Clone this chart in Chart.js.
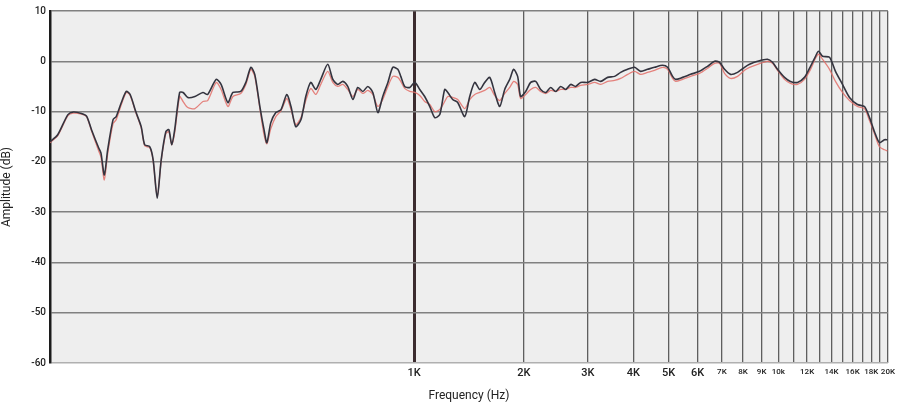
<!DOCTYPE html>
<html>
<head>
<meta charset="utf-8">
<style>
  html, body { margin: 0; padding: 0; background: #ffffff; }
  #wrap { width: 899px; height: 403px; }
</style>
<script src="https://cdn.jsdelivr.net/npm/chart.js@4.4.1/dist/chart.umd.min.js"></script>
</head>
<body>
<div id="wrap"><canvas id="c" width="899" height="403"></canvas></div>
<script>
const freqHz = [100,105,112,116,122,126,130,136,138,141,144,149,152,157,162,166,172,178,182,188,192,197,202,208,212,216,220,227,232,239,250,263,271,286,295,308,318,334,345,356,365,377,387,394,404,417,431,447,459,473,489,504,520,537,554,579,598,617,637,657,679,700,723,746,770,795,820,847,874,902,919,942,973,1004,1036,1069,1104,1139,1176,1213,1237,1276,1317,1377,1421,1467,1514,1562,1613,1664,1718,1773,1830,1876,1924,1961,2024,2089,2157,2226,2297,2371,2447,2526,2606,2690,2776,2866,2995,3131,3252,3399,3552,3690,3857,4031,4187,4375,4574,4810,4965,5125,5224,5460,5743,6078,6392,6682,6897,7119,7394,7727,8076,8337,8768,9340,9639,9949,10400,10800,11290,11800,12260,12655,12897,13226,13823,14355,15006,15686,16498,17245,17801,18371,18960,19565,19940];
const darkDb = [-16.0,-14.6,-10.6,-10.1,-10.4,-10.9,-13.6,-17.2,-18.2,-22.6,-17.6,-11.6,-11.0,-8.2,-6.0,-6.6,-10.0,-13.0,-16.6,-17.0,-19.6,-27.2,-19.6,-14.0,-13.6,-16.6,-13.6,-6.2,-6.2,-7.2,-7.0,-6.2,-6.6,-3.6,-4.6,-8.2,-6.2,-6.0,-4.2,-1.2,-2.6,-9.0,-13.6,-16.2,-12.2,-10.2,-9.6,-6.6,-9.0,-13.0,-11.6,-7.0,-4.2,-5.6,-3.6,-0.6,-3.6,-4.6,-4.0,-5.0,-7.6,-5.2,-6.0,-5.0,-6.2,-10.2,-7.0,-4.2,-1.2,-1.6,-3.0,-5.0,-5.2,-4.2,-5.6,-7.0,-9.0,-11.2,-10.6,-5.6,-6.2,-7.6,-8.2,-11.0,-7.0,-4.2,-5.6,-4.2,-3.2,-6.2,-9.0,-5.6,-3.6,-1.6,-3.0,-7.0,-6.0,-4.2,-4.0,-5.6,-6.2,-5.2,-6.0,-5.0,-5.6,-4.6,-5.0,-4.2,-4.2,-3.6,-4.0,-3.2,-3.0,-2.2,-1.6,-1.2,-2.0,-1.6,-1.2,-0.8,-1.2,-3.0,-3.6,-3.2,-2.6,-2.0,-1.0,0.0,-0.2,-1.6,-2.6,-2.2,-1.2,-0.6,0.0,0.4,-0.2,-1.6,-3.2,-4.0,-4.2,-3.2,-1.0,1.0,2.0,1.0,0.8,-2.0,-4.6,-7.2,-8.6,-9.0,-11.2,-14.0,-16.2,-15.6,-15.6];
const redDb = [-16.2,-14.8,-10.8,-10.3,-10.5,-11.0,-13.8,-17.8,-19.0,-23.6,-18.4,-12.4,-11.6,-8.6,-6.2,-6.8,-10.2,-13.2,-16.8,-17.2,-19.8,-27.0,-19.8,-14.4,-14.0,-16.6,-14.2,-7.0,-8.0,-9.2,-9.4,-8.0,-7.8,-4.2,-5.6,-9.0,-7.0,-6.4,-4.6,-1.6,-3.0,-9.4,-14.6,-16.4,-13.4,-11.0,-9.8,-7.4,-9.6,-12.6,-11.2,-7.8,-5.4,-6.6,-4.6,-2.0,-4.2,-5.0,-4.6,-5.6,-7.0,-5.6,-6.4,-5.8,-6.6,-9.0,-7.6,-5.0,-3.0,-3.2,-4.0,-5.4,-6.0,-6.2,-6.8,-8.0,-8.6,-10.0,-9.6,-8.0,-7.0,-7.2,-7.6,-9.4,-7.6,-6.6,-6.2,-5.8,-5.2,-6.8,-7.8,-6.4,-5.2,-4.0,-4.6,-7.4,-6.6,-5.6,-5.2,-6.0,-6.4,-5.8,-6.0,-5.6,-5.6,-5.2,-5.2,-4.8,-4.6,-4.2,-4.6,-4.0,-3.8,-3.4,-2.6,-2.0,-2.6,-2.2,-1.8,-1.2,-1.6,-3.4,-4.0,-3.6,-3.0,-2.4,-1.4,-0.4,-0.4,-2.4,-3.4,-3.0,-1.8,-1.2,-0.6,0.0,-0.4,-1.8,-3.6,-4.4,-4.6,-3.6,-1.6,0.6,1.4,0.4,-1.6,-4.0,-6.2,-7.8,-9.0,-9.4,-11.8,-14.4,-17.0,-17.6,-17.8];
const xTickValues = [1000,2000,3000,4000,5000,6000,7000,8000,9000,10000,11000,12000,13000,14000,15000,16000,17000,18000,19000,20000];
const xTickLabels = ['1K','2K','3K','4K','5K','6K','7K','8K','9K','10k','','12K','','14K','','16K','','18K','','20K'];
const yTickMin = -60, yTickMax = 10, yTickStep = 10;

const bgPlugin = {
  id: 'plotBg',
  beforeDraw(chart) {
    const a = chart.chartArea, ctx = chart.ctx;
    ctx.save();
    ctx.fillStyle = '#eeeeee';
    ctx.fillRect(a.left, a.top, a.right - a.left, a.bottom - a.top);
    ctx.restore();
  }
};

new Chart(document.getElementById('c'), {
  type: 'line',
  data: {
    datasets: [
      {
        label: 'Dark',
        data: freqHz.map((f, i) => ({ x: f, y: darkDb[i] })),
        borderColor: '#34343f',
        borderWidth: 1.6,
        pointRadius: 0,
        tension: 0.25,
        fill: false
      },
      {
        label: 'Red',
        data: freqHz.map((f, i) => ({ x: f, y: redDb[i] })),
        borderColor: 'rgba(226,110,104,0.85)',
        borderWidth: 1.3,
        pointRadius: 0,
        tension: 0.25,
        fill: false
      }
    ]
  },
  options: {
    responsive: false,
    animation: false,
    layout: { padding: { top: 11, right: 11, left: 0, bottom: 0 } },
    plugins: { legend: { display: false }, tooltip: { enabled: false } },
    scales: {
      x: {
        type: 'logarithmic',
        min: 100,
        max: 20000,
        afterBuildTicks: (scale) => { scale.ticks = xTickValues.map(v => ({ value: v })); },
        afterFit: (scale) => { scale.height = 40; },
        ticks: {
          autoSkip: false,
          maxRotation: 0,
          padding: 4,
          color: '#222',
          callback: (value, index) => xTickLabels[index],
          font: (ctx) => ({ family: 'Roboto', size: ctx.index < 6 ? 11 : 8, weight: '500' })
        },
        grid: {
          drawTicks: false,
          color: (ctx) => (ctx.tick && ctx.tick.value === 1000) ? '#3b2b2e' : '#5e5e5e',
          lineWidth: (ctx) => (ctx.tick && ctx.tick.value === 1000) ? 3 : 1.3
        },
        border: { display: false },
        title: {
          display: true,
          text: 'Frequency (Hz)',
          color: '#222',
          font: { family: 'Roboto', size: 12 },
          padding: { top: 0, bottom: 0 }
        }
      },
      y: {
        min: yTickMin,
        max: yTickMax,
        afterFit: (scale) => { scale.width = 50; },
        ticks: {
          stepSize: yTickStep,
          padding: 4,
          color: '#222',
          font: { family: 'Roboto', size: 10, weight: '500' }
        },
        grid: {
          drawTicks: false,
          color: (ctx) => (ctx.tick && ctx.tick.value === -60) ? '#b0b0b0' : '#808080',
          lineWidth: 1.5
        },
        border: { display: true, color: '#1c1c1c', width: 2.5 },
        title: {
          display: true,
          text: 'Amplitude (dB)',
          color: '#222',
          font: { family: 'Roboto', size: 12 },
          padding: { top: 0, bottom: 2 }
        }
      }
    }
  },
  plugins: [bgPlugin]
});
</script>
</body>
</html>
